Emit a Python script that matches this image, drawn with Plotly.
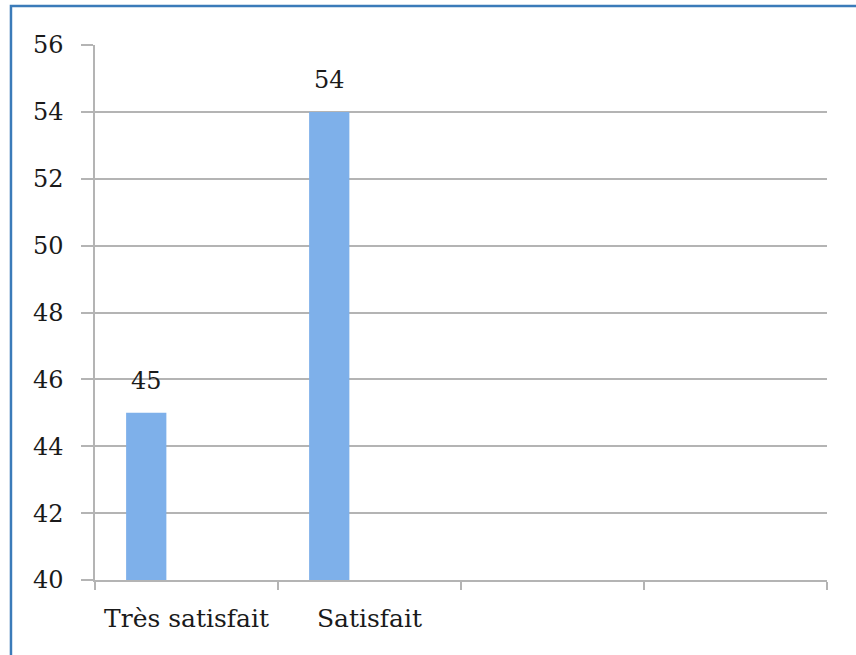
import plotly.graph_objects as go

categories = ["Très satisfait", "Satisfait", " ", "  "]
values = [45, 54, None, None]
y_ticks = [40, 42, 44, 46, 48, 50, 52, 54, 56]

FONT = "DejaVu Serif"
GRID = "#b4b4b4"
TXT = "#1a1a1a"

fig = go.Figure()
fig.add_trace(go.Bar(
    x=categories, y=values,
    width=0.22, offset=-0.33,
    marker=dict(color="#7eb0ea", line=dict(width=0)),
))

for c, v in zip(categories, values):
    if v is not None:
        fig.add_annotation(x=c, y=v, text=str(v), showarrow=False,
                           xshift=-40, yanchor="bottom", yshift=16,
                           font=dict(family=FONT, size=24, color=TXT))

fig.update_layout(
    width=856, height=655,
    margin=dict(l=95, r=29, t=45, b=75),
    paper_bgcolor="white", plot_bgcolor="white",
    showlegend=False,
    font=dict(family=FONT, size=24, color=TXT),
    shapes=[dict(type="rect", xref="paper", yref="paper",
                 x0=-0.1148, x1=1.1, y0=-0.25, y1=1.0729,
                 line=dict(color="#3b7bb9", width=2.5), fillcolor="rgba(0,0,0,0)",
                 layer="above")],
)
fig.update_xaxes(
    type="category", categoryorder="array", categoryarray=categories,
    range=[-0.5, 3.5], tickson="boundaries",
    ticks="outside", ticklen=8, tickwidth=1.5, tickcolor=GRID,
    showline=True, linecolor=GRID, linewidth=1.5,
    showgrid=False, ticklabelstandoff=15,
    tickfont=dict(family=FONT, size=25, color=TXT),
)
fig.update_yaxes(
    range=[40, 56], tickvals=y_ticks,
    ticks="outside", ticklen=12, tickwidth=1.5, tickcolor=GRID,
    showline=True, linecolor=GRID, linewidth=1.5,
    showgrid=True, gridcolor=GRID, gridwidth=1.5, zeroline=False,
    ticklabelstandoff=13,
    tickfont=dict(family=FONT, size=24, color=TXT),
)

fig.write_html("out.html", config={"displayModeBar": False},
               post_script="document.body.style.margin='0';document.body.style.overflow='hidden';")
